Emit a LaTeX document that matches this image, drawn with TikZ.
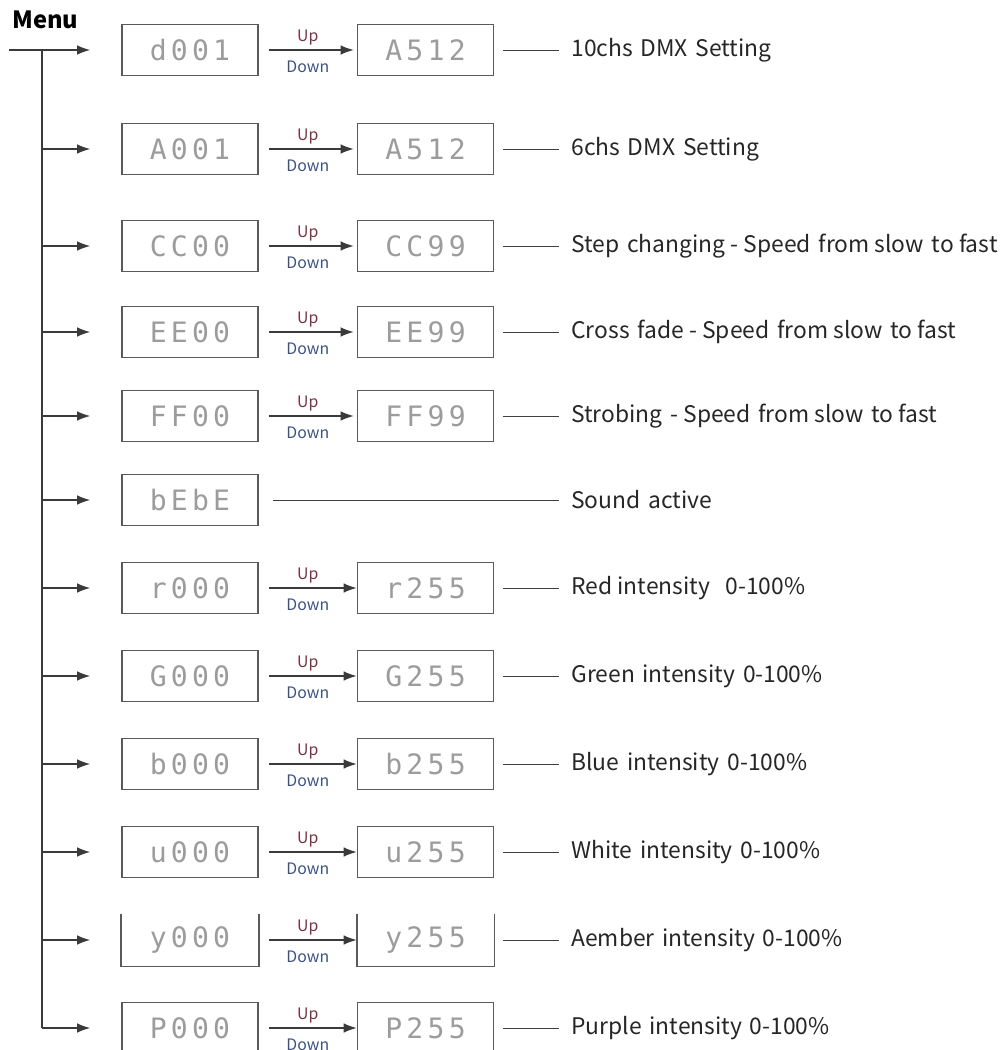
\documentclass[tikz,border=0pt]{standalone}
\usepackage{fontspec}
\setmainfont{Noto Sans CJK SC}
\newfontfamily\lcdfont[LetterSpace=15]{DejaVu Sans Mono}
\usetikzlibrary{arrows.meta, positioning}

\definecolor{framegray}{HTML}{5A5A5A}
\definecolor{lcdgray}{HTML}{9C9C9C}
\definecolor{linegray}{HTML}{3A3A3A}
\definecolor{uptext}{HTML}{7A3343}
\definecolor{downtext}{HTML}{3B5283}

\newcommand\gap{\hspace{0.34em}}

\tikzset{
  lcd/.style={draw=framegray, line width=0.9pt, minimum width=2.72cm, minimum height=1.02cm,
    inner sep=0pt, text=lcdgray, font=\lcdfont\fontsize{16}{16}\selectfont},
  opentop/.style={lcd, draw=none},
  branch/.style={draw=linegray, line width=0.8pt, -{Latex[length=7.5pt,width=5.5pt]}},
  updown/.style={draw=linegray, line width=0.8pt, -{Latex[length=7.5pt,width=5.5pt]},
    shorten <=0.2cm, shorten >=0.06cm},
  uplabel/.style={above=1.5pt, inner sep=1pt, text=uptext, font=\fontsize{9}{9}\selectfont},
  downlabel/.style={below=5pt, inner sep=1pt, text=downtext, font=\fontsize{9}{9}\selectfont},
  tag/.style={anchor=west, inner sep=0pt, text=black!85, font=\fontsize{13}{16}\selectfont},
  lead/.style={draw=black!75, line width=0.5pt, shorten <=0.18cm, shorten >=0.24cm},
}

\begin{document}
\begin{tikzpicture}[x=0.02cm, y=-0.02cm]
  \useasboundingbox (0,0) rectangle (1005,1050);

  \node[anchor=south west, inner sep=0pt, font=\bfseries\fontsize{13.5}{16}\selectfont] (menu) at (12,29) {Menu};

  % display boxes, left column
  \node[lcd] (L1) at (190,50) {d001};
  \node[lcd] (L2) at (190,149) {A001};
  \node[lcd] (L3) at (190,246) {CC00};
  \node[lcd] (L4) at (190,332) {EE00};
  \node[lcd] (L5) at (190,416) {FF00};
  \node[lcd] (L6) at (190,500) {bEbE};
  \node[lcd] (L7) at (190,588) {r000};
  \node[lcd] (L8) at (190,676) {G000};
  \node[lcd] (L9) at (190,764) {b000};
  \node[lcd] (L10) at (190,852) {u000};
  \node[opentop] (L11) at (190,940) {y000};
  \node[lcd] (L12) at (190,1028) {P000};

  % display boxes, right column
  \node[lcd, right=1.96cm of L1] (R1) {A512};
  \node[lcd, right=1.96cm of L2] (R2) {A512};
  \node[lcd, right=1.96cm of L3] (R3) {CC99};
  \node[lcd, right=1.96cm of L4] (R4) {EE99};
  \node[lcd, right=1.96cm of L5] (R5) {FF99};
  \node[lcd, right=1.96cm of L7] (R7) {r255};
  \node[lcd, right=1.96cm of L8] (R8) {G255};
  \node[lcd, right=1.96cm of L9] (R9) {b255};
  \node[lcd, right=1.96cm of L10] (R10) {u255};
  \node[opentop, right=1.96cm of L11] (R11) {y255};
  \node[lcd, right=1.96cm of L12] (R12) {P255};

  % the y-row frames have no top edge
  \draw[framegray, line width=0.9pt] (L11.north west) -- (L11.south west) -- (L11.south east) -- (L11.north east);
  \draw[framegray, line width=0.9pt] (R11.north west) -- (R11.south west) -- (R11.south east) -- (R11.north east);

  % descriptions
  \node[tag] (D1) at (571,50) {10chs\gap DMX\gap Setting};
  \node[tag] (D2) at (571,149) {6chs\gap DMX\gap Setting};
  \node[tag] (D3) at (571,246) {Step\gap changing - Speed\gap from slow\gap to fast};
  \node[tag] (D4) at (571,332) {Cross\gap fade - Speed\gap from slow\gap to fast};
  \node[tag] (D5) at (571,416) {Strobing\gap - Speed\gap from slow\gap to fast};
  \node[tag] (D6) at (571,500) {Sound\gap active};
  \node[tag] (D7) at (571,588) {Red intensity\gap\gap 0-100\%};
  \node[tag] (D8) at (571,676) {Green\gap intensity\gap 0-100\%};
  \node[tag] (D9) at (571,764) {Blue\gap intensity\gap 0-100\%};
  \node[tag] (D10) at (571,852) {White\gap intensity\gap 0-100\%};
  \node[tag] (D11) at (571,940) {Aember\gap intensity\gap 0-100\%};
  \node[tag] (D12) at (571,1028) {Purple\gap intensity\gap 0-100\%};

  % menu trunk
  \coordinate (start) at (9,50);
  \coordinate (t2) at (42,149);
  \coordinate (t3) at (42,246);
  \coordinate (t4) at (42,332);
  \coordinate (t5) at (42,416);
  \coordinate (t6) at (42,500);
  \coordinate (t7) at (42,588);
  \coordinate (t8) at (42,676);
  \coordinate (t9) at (42,764);
  \coordinate (t10) at (42,852);
  \coordinate (t11) at (42,940);
  \coordinate (t12) at (42,1028);
  \draw[linegray, line width=0.8pt] (42,50) -- (t12);
  \draw[branch, shorten >=0.62cm] (start) -- (L1.west);
  \draw[branch, shorten >=0.62cm] (t2) -- (L2.west);
  \draw[branch, shorten >=0.62cm] (t3) -- (L3.west);
  \draw[branch, shorten >=0.62cm] (t4) -- (L4.west);
  \draw[branch, shorten >=0.62cm] (t5) -- (L5.west);
  \draw[branch, shorten >=0.62cm] (t6) -- (L6.west);
  \draw[branch, shorten >=0.62cm] (t7) -- (L7.west);
  \draw[branch, shorten >=0.62cm] (t8) -- (L8.west);
  \draw[branch, shorten >=0.62cm] (t9) -- (L9.west);
  \draw[branch, shorten >=0.62cm] (t10) -- (L10.west);
  \draw[branch, shorten >=0.62cm] (t11) -- (L11.west);
  \draw[branch, shorten >=0.62cm] (t12) -- (L12.west);

  % up / down arrows
  \draw[updown] (L1) -- (R1) node[midway, uplabel] {Up} node[midway, downlabel] {Down};
  \draw[updown] (L2) -- (R2) node[midway, uplabel] {Up} node[midway, downlabel] {Down};
  \draw[updown] (L3) -- (R3) node[midway, uplabel] {Up} node[midway, downlabel] {Down};
  \draw[updown] (L4) -- (R4) node[midway, uplabel] {Up} node[midway, downlabel] {Down};
  \draw[updown] (L5) -- (R5) node[midway, uplabel] {Up} node[midway, downlabel] {Down};
  \draw[updown, shorten >=0pt] (L7) -- (R7) node[midway, uplabel] {Up} node[midway, downlabel] {Down};
  \draw[updown, shorten >=0pt] (L8) -- (R8) node[midway, uplabel] {Up} node[midway, downlabel] {Down};
  \draw[updown, shorten >=0pt] (L9) -- (R9) node[midway, uplabel] {Up} node[midway, downlabel] {Down};
  \draw[updown, shorten >=0pt] (L10) -- (R10) node[midway, uplabel] {Up} node[midway, downlabel] {Down};
  \draw[updown, shorten >=0pt] (L11) -- (R11) node[midway, uplabel] {Up} node[midway, downlabel] {Down};
  \draw[updown, shorten >=0pt] (L12) -- (R12) node[midway, uplabel] {Up} node[midway, downlabel] {Down};

  % leader lines to descriptions
  \draw[lead] (R1) -- (D1);
  \draw[lead] (R2) -- (D2);
  \draw[lead] (R3) -- (D3);
  \draw[lead] (R4) -- (D4);
  \draw[lead] (R5) -- (D5);
  \draw[lead, shorten <=0.28cm] (L6) -- (D6);
  \draw[lead] (R7) -- (D7);
  \draw[lead] (R8) -- (D8);
  \draw[lead] (R9) -- (D9);
  \draw[lead] (R10) -- (D10);
  \draw[lead] (R11) -- (D11);
  \draw[lead] (R12) -- (D12);
\end{tikzpicture}
\end{document}
